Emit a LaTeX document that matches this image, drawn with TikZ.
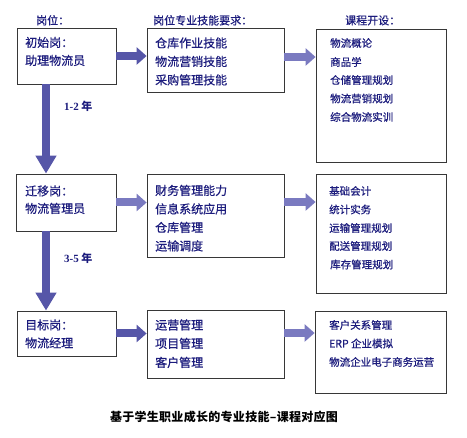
\documentclass[tikz,border=0pt]{standalone}
\usepackage{fontspec}
\setmainfont{Noto Sans CJK SC}
\newfontfamily\boxfont{Noto Sans CJK SC}[FakeBold=0.6]
\newfontfamily\capfont{Noto Sans CJK SC}[LetterSpace=2.5]
\newfontfamily\serifb{Liberation Serif}
\usetikzlibrary{arrows.meta}
\definecolor{txtblue}{RGB}{28,28,125}
\definecolor{arrdark}{RGB}{86,86,168}
\definecolor{arrlight}{RGB}{122,122,192}
\definecolor{boxline}{RGB}{55,55,55}
\tikzset{
  box/.style={draw=boxline, line width=0.8pt, inner sep=0pt, fill=white},
  txt/.style={anchor=base west, inner sep=0pt, text=txtblue, font=\boxfont\fontsize{12}{14}\selectfont},
  stxt/.style={anchor=base west, inner sep=0pt, text=txtblue, font=\boxfont\fontsize{10.5}{12}\selectfont},
  head/.style={anchor=base west, inner sep=0pt, text=txtblue, font=\boxfont\fontsize{11}{13}\selectfont},
  yrs/.style={anchor=base west, inner sep=0pt, text=txtblue, font=\fontsize{11}{13}\selectfont\bfseries},
  darrow/.style={draw=arrdark, line width=8pt, -{Triangle[width=17pt,length=10pt]}},
  larrow/.style={draw=arrlight, line width=8pt, -{Triangle[width=17pt,length=10pt]}},
  varrow/.style={draw=arrdark, line width=8pt, -{Triangle[width=20pt,length=18pt]}}
}
\begin{document}
\begin{tikzpicture}[x=1pt,y=-1pt]
\fill[white] (0,0) rectangle (467,438);
\useasboundingbox (0,0) rectangle (467,438);

% boxes
\node[box, minimum width=99pt, minimum height=56pt] (b1) at (66.5,56) {};
\node[box, minimum width=137pt, minimum height=64pt] (b2) at (215.5,60) {};
\node[box, minimum width=130pt, minimum height=133pt] (b3) at (381,95.5) {};
\node[box, minimum width=100pt, minimum height=57pt] (b4) at (66,202.5) {};
\node[box, minimum width=137pt, minimum height=83pt] (b5) at (215.5,215.5) {};
\node[box, minimum width=130pt, minimum height=119pt] (b6) at (381,233.5) {};
\node[box, minimum width=99pt, minimum height=45pt] (b7) at (66.5,333.5) {};
\node[box, minimum width=137pt, minimum height=68pt] (b8) at (215.5,344) {};
\node[box, minimum width=131pt, minimum height=82pt] (b9) at (380.5,352) {};

% headings
\node[head] (h1) at (36,24.5) {岗位：};
\node[head] (h2) at (153,24.5) {岗位专业技能要求：};
\node[head] (h3) at (345,24.5) {课程开设：};

% box texts
\node[txt] (t1a) at (25,47) {初始岗：};
\node[txt] (t1b) at (25,65) {助理物流员};
\node[txt] (t2a) at (155,47.5) {仓库作业技能};
\node[txt] (t2b) at (155,66) {物流营销技能};
\node[txt] (t2c) at (155,84.5) {采购管理技能};
\node[stxt] (t3a) at (330,47) {物流概论};
\node[stxt] (t3b) at (330,66) {商品学};
\node[stxt] (t3c) at (330,84) {仓储管理规划};
\node[stxt] (t3d) at (330,102.5) {物流营销规划};
\node[stxt] (t3e) at (330,121) {综合物流实训};

\node[txt] (t4a) at (25,195.5) {迁移岗：};
\node[txt] (t4b) at (25,213) {物流管理员};
\node[txt] (t5a) at (155,195) {财务管理能力};
\node[txt] (t5b) at (155,213.5) {信息系统应用};
\node[txt] (t5c) at (155,232) {仓库管理};
\node[txt] (t5d) at (155,250.5) {运输调度};
\node[stxt] (t6a) at (329,195) {基础会计};
\node[stxt] (t6b) at (329,213.5) {统计实务};
\node[stxt] (t6c) at (329,232) {运输管理规划};
\node[stxt] (t6d) at (329,250) {配送管理规划};
\node[stxt] (t6e) at (330,268.5) {库存管理规划};

\node[txt] (t7a) at (25,329.5) {目标岗：};
\node[txt] (t7b) at (25,347.5) {物流经理};
\node[txt] (t8a) at (155,329.5) {运营管理};
\node[txt] (t8b) at (155,348) {项目管理};
\node[txt] (t8c) at (155,367) {客户管理};
\node[stxt] (t9a) at (329,329) {客户关系管理};
\node[stxt] (t9b) at (329,347.5) {ERP 企业模拟};
\node[stxt] (t9c) at (329,366) {物流企业电子商务运营};

% year labels
\node[yrs] (y1) at (64,111) {{\serifb\bfseries 1-2} 年};
\node[yrs] (y2) at (64,263) {{\serifb\bfseries 3-5} 年};

% caption
\node[inner sep=0pt, font=\capfont\fontsize{12}{14}\selectfont\bfseries] (cap) at (224,417) {基于学生职业成长的专业技能–课程对应图};

% arrows
\draw[varrow] ([xshift=-20.5pt]b1.south) -- ([xshift=-20pt]b4.north);
\draw[varrow] ([xshift=-20pt]b4.south) -- ([xshift=-20.5pt]b7.north);
\draw[darrow] (b1.east) -- (b1.east -| b2.west);
\draw[larrow] ([yshift=3pt]b2.east) -- ([yshift=3pt]b2.east -| b3.west);
\draw[larrow] (b4.east) -- (b4.east -| b5.west);
\draw[larrow] ([yshift=13.5pt]b5.east) -- ([yshift=13.5pt]b5.east -| b6.west);
\draw[darrow] (b7.east) -- (b7.east -| b8.west);
\draw[larrow] ([yshift=11pt]b8.east) -- ([yshift=11pt]b8.east -| b9.west);
\end{tikzpicture}
\end{document}
